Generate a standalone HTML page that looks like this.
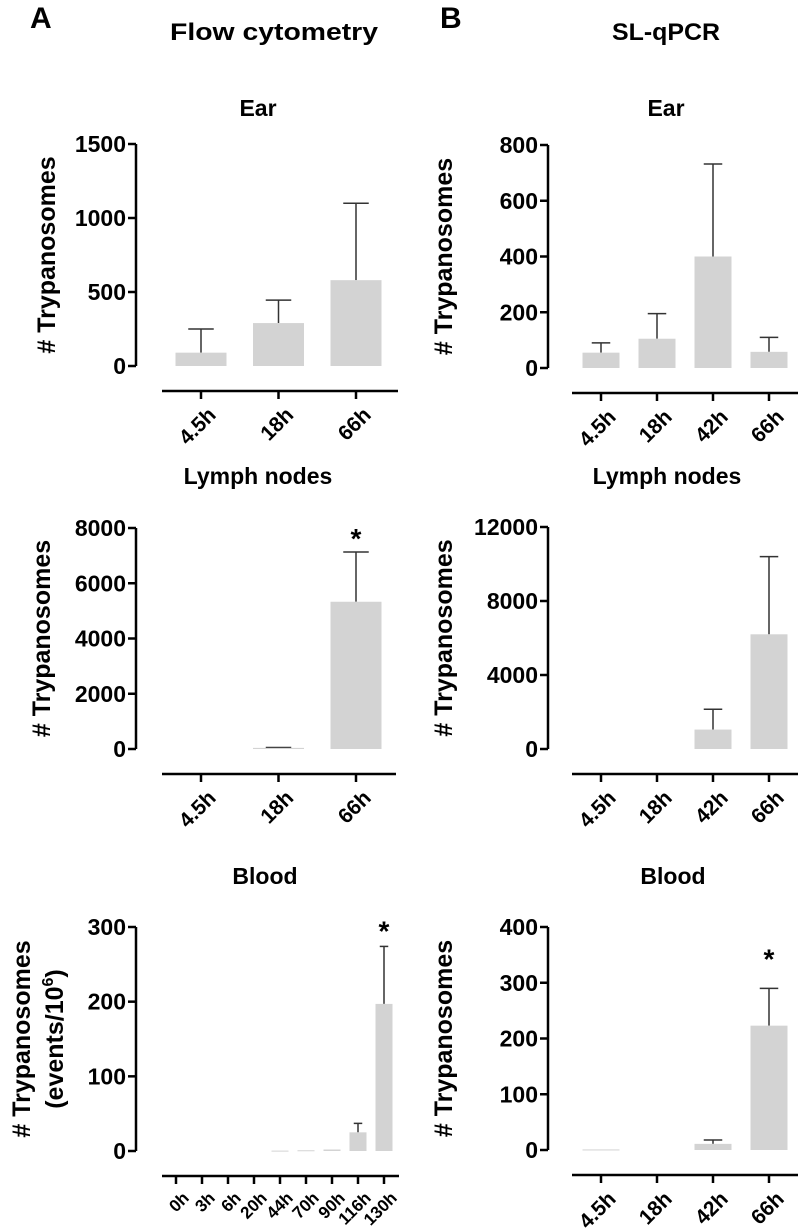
<!DOCTYPE html>
<html><head><meta charset="utf-8"><style>
html,body{margin:0;padding:0;background:#fff;}
svg{display:block;font-family:"Liberation Sans",Arial,sans-serif;font-weight:bold;}
</style></head><body>
<svg id="fig" width="799" height="1231" viewBox="0 0 799 1231" xmlns="http://www.w3.org/2000/svg">
<text x="30" y="28" font-size="30">A</text>
<text x="170" y="40" font-size="24" textLength="208" lengthAdjust="spacingAndGlyphs">Flow cytometry</text>
<text x="440" y="28" font-size="30">B</text>
<text x="612" y="40" font-size="24" textLength="108" lengthAdjust="spacingAndGlyphs">SL-qPCR</text>
</svg>
<script>
// Panel A Ear
const aEarCats=["4.5h","18h","66h"];
const aEarVals=[90,290,580];
const aEarErr=[250,445,1100];
const aEarTicks=[0,500,1000,1500];
// Panel A Lymph
const aLnCats=["4.5h","18h","66h"];
const aLnVals=[0,40,5330];
const aLnErr=[0,55,7130];
const aLnTicks=[0,2000,4000,6000,8000];
const aLnStars=[false,false,true];
// Panel A Blood
const aBlCats=["0h","3h","6h","20h","44h","70h","90h","116h","130h"];
const aBlVals=[0,0,0,0,0.5,1,2,25,197];
const aBlErr=[0,0,0,0,0.5,1,2,37,274];
const aBlTicks=[0,100,200,300];
const aBlStars=[false,false,false,false,false,false,false,false,true];
// Panel B Ear
const bEarCats=["4.5h","18h","42h","66h"];
const bEarVals=[55,105,400,58];
const bEarErr=[90,195,732,110];
const bEarTicks=[0,200,400,600,800];
// Panel B Lymph
const bLnCats=["4.5h","18h","42h","66h"];
const bLnVals=[0,0,1050,6200];
const bLnErr=[0,0,2150,10400];
const bLnTicks=[0,4000,8000,12000];
// Panel B Blood
const bBlCats=["4.5h","18h","42h","66h"];
const bBlVals=[1,0,11,223];
const bBlErr=[1,0,18,290];
const bBlTicks=[0,100,200,300,400];
const bBlStars=[false,false,false,true];

const NS="http://www.w3.org/2000/svg";
const svg=document.getElementById('fig');
function mk(tag,attrs,parent,txt){const e=document.createElementNS(NS,tag);for(const k in attrs)e.setAttribute(k,attrs[k]);if(txt!==undefined)e.textContent=txt;(parent||svg).appendChild(e);return e;}

function panel(o){
  const g=mk('g',{});
  
  
  const ymax=o.ticks[o.ticks.length-1];
  const ys=v=>o.y0-(v/ymax)*(o.y0-o.yTop);
  const xs=i=>o.x0+i*o.step;
  const t=mk('text',{x:o.titleX,y:o.titleY,'font-size':23,'text-anchor':'middle'},g,o.title);
  
  
  const ya=mk('line',{x1:o.ax,y1:o.yTop,x2:o.ax,y2:o.y0,stroke:'#000','stroke-width':2.5},g);
  
  
  o.ticks.forEach(v=>{
    mk('line',{x1:o.ax-8,y1:ys(v),x2:o.ax,y2:ys(v),stroke:'#000','stroke-width':2.5},g);
    const tl=mk('text',{x:o.ax-10,y:ys(v)+8,'font-size':23,'text-anchor':'end'},g,String(v));
    
    
  });
  const yt=mk('text',{transform:`translate(${o.ytX},${(o.yTop+o.y0)/2}) rotate(-90)`,'font-size':25,'text-anchor':'middle'},g);
  
  
  if(o.ytLines){
    o.ytLines.forEach((l,i)=>{mk('tspan',{x:0,dy:i===0?0:33},yt).innerHTML=l;});
  } else yt.textContent='# Trypanosomes';
  const xa=mk('line',{x1:o.xaL,y1:o.xaY,x2:o.xaR,y2:o.xaY,stroke:'#000','stroke-width':2.5},g);
  
  
  o.cats.forEach((c,i)=>{
    const x=xs(i);
    mk('line',{x1:x,y1:o.xaY,x2:x,y2:o.xaY+8,stroke:'#000','stroke-width':2.5},g);
    const lx=x+5,ly=o.xaY+14;
    const xl=mk('text',{transform:`translate(${lx},${ly}) rotate(-45)`,'font-size':o.xfs,'text-anchor':'end',dy:'0.75em'},g,c);
    
    
    const v=o.vals[i],e=o.err[i];
    if(v>0){
      const top=ys(v);
      if(e>v){
        mk('line',{x1:x,y1:ys(e),x2:x,y2:top,stroke:'#333','stroke-width':1.5},g);
        mk('line',{x1:x-o.bw*0.25,y1:ys(e),x2:x+o.bw*0.25,y2:ys(e),stroke:'#333','stroke-width':1.5},g);
      }
      const b=mk('rect',{x:x-o.bw/2,y:top,width:o.bw,height:Math.max(o.y0-top,1),fill:'#d3d3d3'},g);
      
      
    }
    if(o.stars&&o.stars[i]){
      const s=mk('text',{x:x,y:ys(e)-o.starGap,'font-size':28,'text-anchor':'middle'},g,'*');
      
      
    }
  });
}

panel({name:'chart-a-ear',title:'Ear',titleX:258,titleY:116,cats:aEarCats,vals:aEarVals,err:aEarErr,ticks:aEarTicks,ax:136,yTop:144,y0:366,ytX:55,xaL:162,xaR:398,xaY:391,x0:201,step:77.5,bw:51,xfs:21});
panel({name:'chart-a-lymph-nodes',title:'Lymph nodes',titleX:258,titleY:484,cats:aLnCats,vals:aLnVals,err:aLnErr,ticks:aLnTicks,ax:136,yTop:528,y0:749,ytX:50,xaL:162,xaR:396,xaY:774,x0:201,step:77.5,bw:51,xfs:21,stars:aLnStars,starGap:4});
panel({name:'chart-a-blood',title:'Blood',titleX:265,titleY:884,cats:aBlCats,vals:aBlVals,err:aBlErr,ticks:aBlTicks,ax:136,yTop:927,y0:1151,ytX:30,ytLines:['# Trypanosomes','(events/10<tspan font-size="16" dy="-10">6</tspan><tspan dy="10">)</tspan>'],xaL:162,xaR:399,xaY:1176,x0:176,step:26,bw:17,xfs:17,stars:aBlStars,starGap:6});
panel({name:'chart-b-ear',title:'Ear',titleX:666,titleY:116,cats:bEarCats,vals:bEarVals,err:bEarErr,ticks:bEarTicks,ax:548,yTop:145,y0:368,ytX:452,xaL:572,xaR:798,xaY:393,x0:601,step:56,bw:37,xfs:21});
panel({name:'chart-b-lymph-nodes',title:'Lymph nodes',titleX:667,titleY:484,cats:bLnCats,vals:bLnVals,err:bLnErr,ticks:bLnTicks,ax:548,yTop:527,y0:749,ytX:452,xaL:572,xaR:798,xaY:774,x0:601,step:56,bw:37,xfs:21});
panel({name:'chart-b-blood',title:'Blood',titleX:673,titleY:884,cats:bBlCats,vals:bBlVals,err:bBlErr,ticks:bBlTicks,ax:548,yTop:927,y0:1150,ytX:452,xaL:572,xaR:798,xaY:1175,x0:601,step:56,bw:37,xfs:21,stars:bBlStars,starGap:20});
</script>
</body></html>
